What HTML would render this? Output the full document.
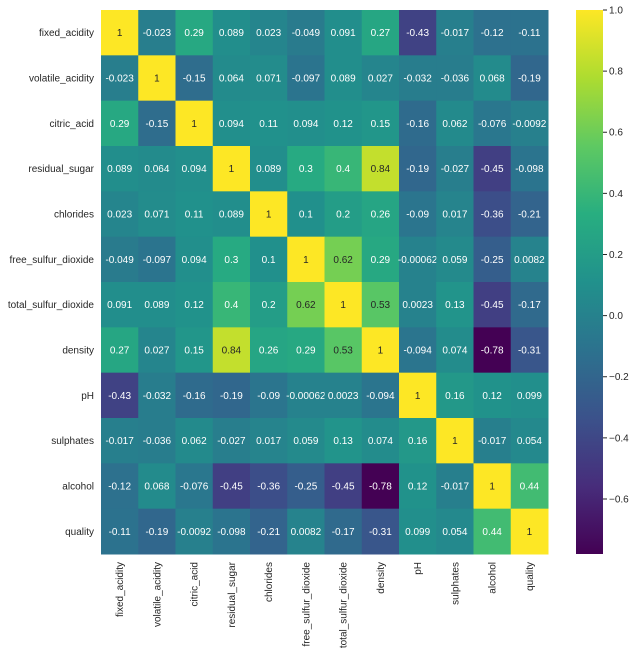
<!DOCTYPE html>
<html><head><meta charset="utf-8"><style>
body{margin:0;background:#fff;}
svg text{font-family:"Liberation Sans",sans-serif;}
</style></head><body>
<svg id="chart" width="637" height="655" xmlns="http://www.w3.org/2000/svg">
<defs><linearGradient id="cbg" x1="0" y1="1" x2="0" y2="0"></linearGradient></defs>
</svg>
<script>
const labels=["fixed_acidity","volatile_acidity","citric_acid","residual_sugar","chlorides","free_sulfur_dioxide","total_sulfur_dioxide","density","pH","sulphates","alcohol","quality"];
const values=[
[1,-0.023,0.29,0.089,0.023,-0.049,0.091,0.27,-0.43,-0.017,-0.12,-0.11],
[-0.023,1,-0.15,0.064,0.071,-0.097,0.089,0.027,-0.032,-0.036,0.068,-0.19],
[0.29,-0.15,1,0.094,0.11,0.094,0.12,0.15,-0.16,0.062,-0.076,-0.0092],
[0.089,0.064,0.094,1,0.089,0.3,0.4,0.84,-0.19,-0.027,-0.45,-0.098],
[0.023,0.071,0.11,0.089,1,0.1,0.2,0.26,-0.09,0.017,-0.36,-0.21],
[-0.049,-0.097,0.094,0.3,0.1,1,0.62,0.29,-0.00062,0.059,-0.25,0.0082],
[0.091,0.089,0.12,0.4,0.2,0.62,1,0.53,0.0023,0.13,-0.45,-0.17],
[0.27,0.027,0.15,0.84,0.26,0.29,0.53,1,-0.094,0.074,-0.78,-0.31],
[-0.43,-0.032,-0.16,-0.19,-0.09,-0.00062,0.0023,-0.094,1,0.16,0.12,0.099],
[-0.017,-0.036,0.062,-0.027,0.017,0.059,0.13,0.074,0.16,1,-0.017,0.054],
[-0.12,0.068,-0.076,-0.45,-0.36,-0.25,-0.45,-0.78,0.12,-0.017,1,0.44],
[-0.11,-0.19,-0.0092,-0.098,-0.21,0.0082,-0.17,-0.31,0.099,0.054,0.44,1]];
const cbTicks=[1.0,0.8,0.6,0.4,0.2,0.0,-0.2,-0.4,-0.6];
const vmin=-0.78, vmax=1;
const L=101,T=10,W=447,H=544,n=labels.length,cw=W/n,ch=H/n;
const CBX=576,CBW=27;
const stops=[[68,1,84],[71,45,123],[59,82,139],[44,114,142],[33,145,140],[40,174,128],[94,201,98],[173,220,48],[253,231,37]];
function vir(t){t=Math.max(0,Math.min(1,t));const p=t*8,i=Math.min(7,Math.floor(p)),f=p-i;
return stops[i].map((c,k)=>Math.round(c+(stops[i+1][k]-c)*f));}
function norm(v){return (v-vmin)/(vmax-vmin);}
function yCb(v){return T+H-norm(v)*H;}
const NS="http://www.w3.org/2000/svg",svg=document.getElementById('chart');
function mk(tag,at,txt){const e=document.createElementNS(NS,tag);for(const k in at)e.setAttribute(k,at[k]);if(txt!==undefined)e.textContent=txt;svg.appendChild(e);return e;}
for(let r=0;r<n;r++)for(let c=0;c<n;c++){
 const v=values[r][c],col=vir(norm(v));
 const rect=mk('rect',{x:L+c*cw,y:T+r*ch,width:cw+0.5,height:ch+0.5,fill:`rgb(${col})`});
 
 
 const t=mk('text',{x:L+c*cw+cw/2,y:T+r*ch+ch/2+3.5,'text-anchor':'middle','font-size':'10',fill:norm(v)>0.7?'#262626':'#ffffff'},String(v));
 
 
}
labels.forEach((s,i)=>{
 const t=mk('text',{x:94,y:T+i*ch+ch/2+3.5,'text-anchor':'end','font-size':'10',fill:'#262626'},s);
 
 
 const x=L+i*cw+cw/2+3.5;
 const u=mk('text',{x:x,y:562,'text-anchor':'end','font-size':'10',fill:'#262626',transform:`rotate(-90 ${x} 562)`},s);
 
 
});
const g=svg.querySelector('#cbg');
for(let i=0;i<=8;i++){const s=document.createElementNS(NS,'stop');s.setAttribute('offset',i/8);s.setAttribute('stop-color',`rgb(${stops[i]})`);g.appendChild(s);}
const cb=mk('rect',{x:CBX,y:T,width:CBW,height:H,fill:'url(#cbg)'});


cbTicks.forEach(v=>{const y=yCb(v);
 mk('line',{x1:CBX+CBW,x2:CBX+CBW+4,y1:y,y2:y,stroke:'#262626','stroke-width':1});
 const t=mk('text',{x:CBX+CBW+6,y:y+3.5,'font-size':'10',fill:'#262626'},(v<0?'\u22120':'')+ (v<0?(-v).toFixed(1).slice(1):v.toFixed(1)));
 
 
});
</script>
</body></html>
